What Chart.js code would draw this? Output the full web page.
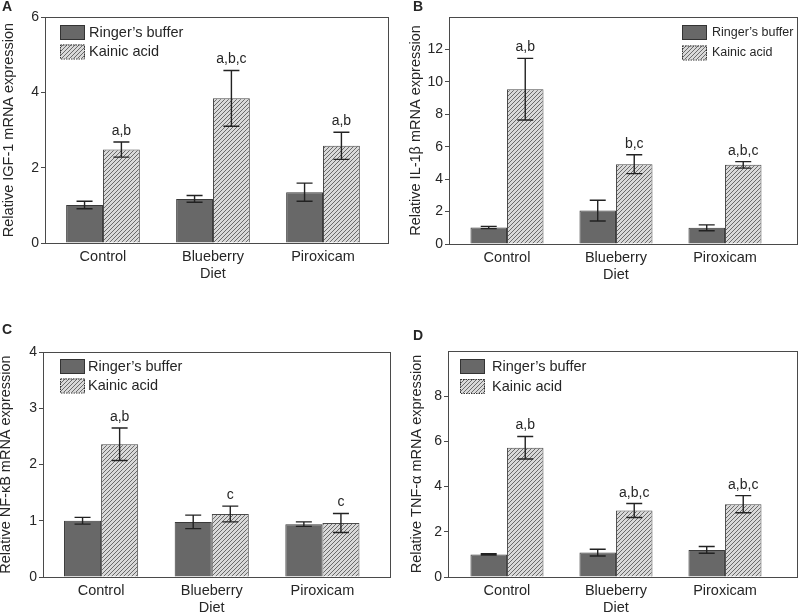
<!DOCTYPE html>
<html>
<head>
<meta charset="utf-8">
<script src="https://cdn.jsdelivr.net/npm/chart.js@4.4.1/dist/chart.umd.min.js"></script>
<style>
    html, body { margin:0; padding:0; background:#fff; }
    #wrap { position:relative; width:800px; height:614px; }
    #wrap canvas { position:absolute; }
</style>
</head>
<body>
<div id="wrap">
    <canvas id="cA" width="400" height="300" style="left:0;top:0"></canvas>
    <canvas id="cB" width="400" height="300" style="left:400px;top:0"></canvas>
    <canvas id="cC" width="400" height="314" style="left:0;top:300px"></canvas>
    <canvas id="cD" width="400" height="314" style="left:400px;top:300px"></canvas>
</div>
<script>
// ── Data ───────────────────────────────────────
const CATS   = ['Control', ['Blueberry', 'Diet'], 'Piroxicam'];
const CAT_X  = [1, 2, 3];
const SERIES = ["Ringer\u2019s buffer", 'Kainic acid'];

// A: IGF-1
const IGF_RINGER     = [1.01, 1.17, 1.35];
const IGF_RINGER_ERR = [0.10, 0.09, 0.24];
const IGF_KAINIC     = [2.48, 3.84, 2.58];
const IGF_KAINIC_ERR = [0.20, 0.74, 0.36];
const IGF_SIG        = ['a,b', 'a,b,c', 'a,b'];

// B: IL-1β
const IL_RINGER     = [1.02, 2.06, 1.00];
const IL_RINGER_ERR = [0.07, 0.64, 0.18];
const IL_KAINIC     = [9.55, 4.92, 4.88];
const IL_KAINIC_ERR = [1.90, 0.58, 0.20];
const IL_SIG        = ['a,b', 'b,c', 'a,b,c'];

// C: NF-κB
const NF_RINGER     = [1.00, 0.98, 0.94];
const NF_RINGER_ERR = [0.06, 0.12, 0.04];
const NF_KAINIC     = [2.36, 1.12, 0.96];
const NF_KAINIC_ERR = [0.29, 0.14, 0.17];
const NF_SIG        = ['a,b', 'c', 'c'];

// D: TNF-α
const TNF_RINGER     = [1.00, 1.08, 1.20];
const TNF_RINGER_ERR = [0.03, 0.15, 0.15];
const TNF_KAINIC     = [5.72, 2.94, 3.22];
const TNF_KAINIC_ERR = [0.50, 0.31, 0.38];
const TNF_SIG        = ['a,b', 'a,b,c', 'a,b,c'];

// ── Styles ─────────────────────────────────────
const FONT     = "'Liberation Sans', Arial, sans-serif";
const TXT      = '#262626';
const DARK     = '#686868';
const LINE     = '#4a4a4a';

Chart.defaults.font.family = FONT;
Chart.defaults.color = TXT;

function hatch() {
    const c = document.createElement('canvas');
    c.width = c.height = 4;
    const g = c.getContext('2d');
    g.fillStyle = '#d9d9d9';
    g.fillRect(0, 0, 4, 4);
    g.strokeStyle = '#6a6a6a';
    g.lineWidth = 1;
    g.beginPath();
    g.moveTo(-1, 5); g.lineTo(5, -1);
    g.moveTo(-1, 1); g.lineTo(1, -1);
    g.moveTo(3, 5);  g.lineTo(5, 3);
    g.stroke();
    return g.createPattern(c, 'repeat');
}
const HATCH = hatch();

// ── Decorations: frame, error bars, letters, legend, titles ──
const decor = {
    id: 'decor',
    afterDatasetsDraw(chart, args, o) {
        const ctx = chart.ctx, ys = chart.scales.y, a = chart.chartArea;
        ctx.save();
        ctx.strokeStyle = '#222';
        ctx.lineWidth = 1.4;
        chart.data.datasets.forEach((ds, di) => {
            chart.getDatasetMeta(di).data.forEach((bar, i) => {
                const v = ds.data[i].y, e = ds.err[i];
                const yt = ys.getPixelForValue(v + e);
                const yb = ys.getPixelForValue(v - e);
                const x = bar.x;
                ctx.beginPath();
                ctx.moveTo(x, yt); ctx.lineTo(x, yb);
                ctx.moveTo(x - 8, yt); ctx.lineTo(x + 8, yt);
                ctx.moveTo(x - 8, yb); ctx.lineTo(x + 8, yb);
                ctx.stroke();
                if (di === 1) {
                    ctx.fillStyle = TXT;
                    ctx.font = `14px ${FONT}`;
                    ctx.textAlign = 'center';
                    ctx.textBaseline = 'alphabetic';
                    ctx.fillText(o.sig[i], x, yt - 7);
                }
            });
        });
        // frame
        ctx.strokeStyle = LINE;
        ctx.lineWidth = 1;
        ctx.strokeRect(a.left + 0.5, a.top + 0.5, a.right - a.left - 1, a.bottom - a.top);
        ctx.restore();
    },
    afterDraw(chart, args, o) {
        const ctx = chart.ctx, a = chart.chartArea, L = o.legend;
        ctx.save();
        // legend
        const fills = [DARK, HATCH];
        SERIES.forEach((s, i) => {
            const y = L.y + i * L.gap;
            ctx.fillStyle = fills[i];
            ctx.fillRect(L.x, y, 25, 14);
            ctx.strokeStyle = '#333';
            ctx.lineWidth = 1;
            ctx.setLineDash(i ? [1.5, 1] : []);
            ctx.strokeRect(L.x + 0.5, y + 0.5, 24, 14);
            ctx.setLineDash([]);
            ctx.fillStyle = TXT;
            ctx.font = `${L.size}px ${FONT}`;
            ctx.textAlign = 'left';
            ctx.textBaseline = 'middle';
            ctx.fillText(s, L.tx, y + 7.5);
        });
        // y title
        ctx.save();
        ctx.translate(o.titleX, (a.top + a.bottom) / 2);
        ctx.rotate(-Math.PI / 2);
        ctx.font = `14.5px ${FONT}`;
        ctx.textAlign = 'center';
        ctx.textBaseline = 'middle';
        ctx.fillText(o.title, 0, 0);
        ctx.restore();
        // panel letter
        ctx.font = `bold 14px ${FONT}`;
        ctx.textAlign = 'left';
        ctx.textBaseline = 'middle';
        ctx.fillText(o.letter, o.letterPos[0], o.letterPos[1]);
        ctx.restore();
    },
};

// ── Chart factory ──────────────────────────────
function mkPanel(p) {
    const el = document.getElementById(p.id);
    const pts = vals => vals.map((v, i) => ({ x: CAT_X[i], y: v }));
    new Chart(el, {
        type: 'bar',
        data: {
            datasets: [
                { label: SERIES[0], data: pts(p.ringer), err: p.ringerErr,
                  backgroundColor: DARK, borderColor: '#3a3a3a', borderWidth: 1 },
                { label: SERIES[1], data: pts(p.kainic), err: p.kainicErr,
                  backgroundColor: HATCH, borderColor: '#4a4a4a', borderWidth: 1 },
            ],
        },
        options: {
            responsive: false,
            animation: false,
            devicePixelRatio: 1,
            categoryPercentage: 0.67,
            barPercentage: 1,
            layout: { padding: { top: p.area.t, right: el.width - p.area.r, left: 0, bottom: 0 } },
            plugins: {
                legend:  { display: false },
                tooltip: { enabled: false },
                decor: {
                    sig: p.sig, title: p.title, titleX: p.titleX,
                    letter: p.letter, letterPos: p.letterPos, legend: p.legend,
                },
            },
            scales: {
                x: {
                    type: 'linear',
                    offset: false,
                    min: p.xMin, max: p.xMax,
                    afterBuildTicks: s => { s.ticks = CAT_X.map(v => ({ value: v })); },
                    afterFit: s => { s.height = el.height - p.area.b; },
                    grid:   { display: false, drawTicks: false, offset: false },
                    border: { display: false },
                    ticks:  {
                        autoSkip: false, maxRotation: 0, padding: 5,
                        color: TXT, font: { size: 14.5 },
                        callback: v => CATS[v - 1],
                    },
                },
                y: {
                    min: 0, max: p.yMax,
                    afterBuildTicks: s => {
                        s.ticks = s.ticks.filter(t => t.value <= p.yLabelMax);
                    },
                    afterFit: s => { s.width = p.area.l; },
                    grid:   { drawOnChartArea: false, drawTicks: true, tickLength: 4, color: LINE },
                    border: { display: false },
                    ticks:  { stepSize: p.yStep, padding: 2, color: TXT, font: { size: 14 } },
                },
            },
        },
        plugins: [decor],
    });
}

mkPanel({
    id: 'cA', area: { l: 45, t: 17, r: 389, b: 243 }, xMin: 0.473, xMax: 3.6,
    yMax: 6, yStep: 2, yLabelMax: 6,
    ringer: IGF_RINGER, ringerErr: IGF_RINGER_ERR,
    kainic: IGF_KAINIC, kainicErr: IGF_KAINIC_ERR, sig: IGF_SIG,
    title: 'Relative IGF-1 mRNA expression', titleX: 9,
    letter: 'A', letterPos: [2, 7],
    legend: { x: 60, y: 25, gap: 19.5, tx: 89, size: 14.5 },
});
mkPanel({
    id: 'cB', area: { l: 49, t: 17, r: 398, b: 244 }, xMin: 0.468, xMax: 3.67,
    yMax: 14, yStep: 2, yLabelMax: 12,
    ringer: IL_RINGER, ringerErr: IL_RINGER_ERR,
    kainic: IL_KAINIC, kainicErr: IL_KAINIC_ERR, sig: IL_SIG,
    title: 'Relative IL-1\u03b2 mRNA expression', titleX: 16,
    letter: 'B', letterPos: [13, 7],
    legend: { x: 282, y: 25, gap: 20.5, tx: 312, size: 12.5 },
});
mkPanel({
    id: 'cC', area: { l: 43, t: 52, r: 391, b: 277 }, xMin: 0.475, xMax: 3.62,
    yMax: 4, yStep: 1, yLabelMax: 4,
    ringer: NF_RINGER, ringerErr: NF_RINGER_ERR,
    kainic: NF_KAINIC, kainicErr: NF_KAINIC_ERR, sig: NF_SIG,
    title: 'Relative NF-\u03baB mRNA expression', titleX: 6,
    letter: 'C', letterPos: [2, 30],
    legend: { x: 60, y: 59, gap: 19.5, tx: 88, size: 14.5 },
});
mkPanel({
    id: 'cD', area: { l: 48, t: 51, r: 398, b: 277 }, xMin: 0.459, xMax: 3.67,
    yMax: 10, yStep: 2, yLabelMax: 8,
    ringer: TNF_RINGER, ringerErr: TNF_RINGER_ERR,
    kainic: TNF_KAINIC, kainicErr: TNF_KAINIC_ERR, sig: TNF_SIG,
    title: 'Relative TNF-\u03b1 mRNA expression', titleX: 17,
    letter: 'D', letterPos: [13, 36],
    legend: { x: 60, y: 59, gap: 20, tx: 92, size: 14.5 },
});
</script>
</body>
</html>
